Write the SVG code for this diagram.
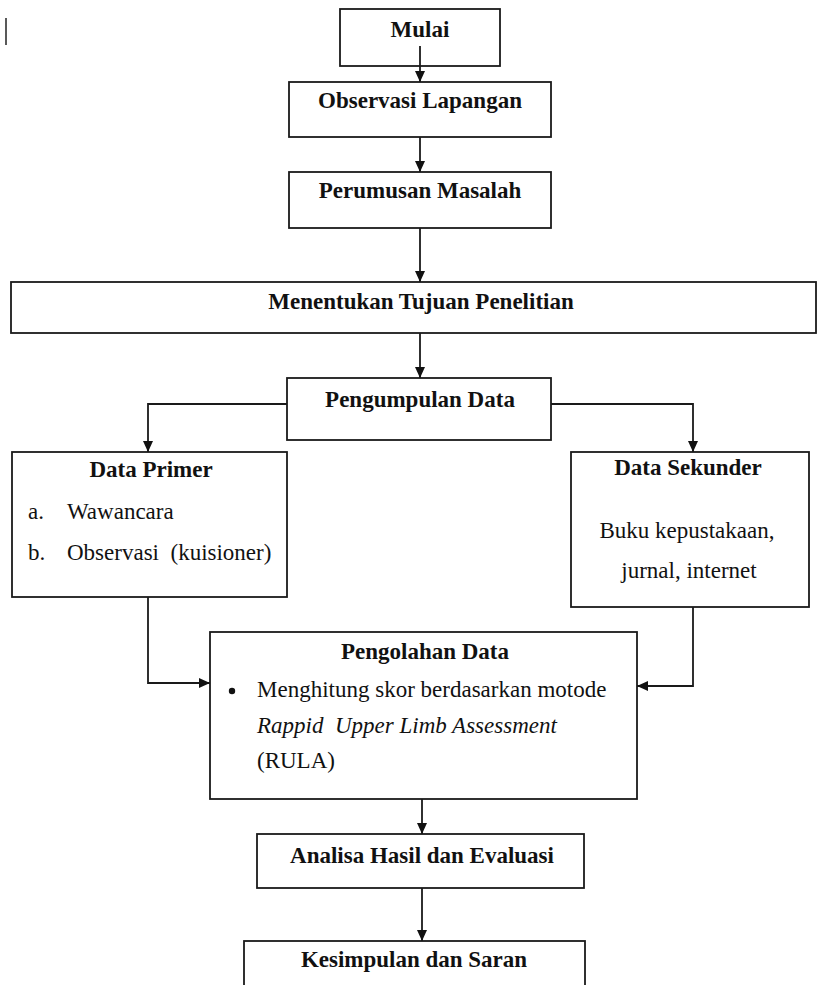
<svg xmlns="http://www.w3.org/2000/svg" width="818" height="985" viewBox="0 0 818 985">
<defs>
<style>
.box{fill:#fff;stroke:#1a1a1a;stroke-width:1.8}
.t{font-family:"Liberation Serif","Times New Roman",serif;font-size:23px;fill:#111}
.b{font-weight:bold}
.c{text-anchor:middle}
.i{font-style:italic}
.con{fill:none;stroke:#1a1a1a;stroke-width:1.8}
</style>
<marker id="ah" markerUnits="userSpaceOnUse" markerWidth="12" markerHeight="11" refX="11" refY="5" orient="auto">
<path d="M0,0 L11,5 L0,10 z" fill="#111"/>
</marker>
</defs>
<rect width="818" height="985" fill="#fff"/>
<line x1="6" y1="18" x2="6" y2="45" stroke="#222" stroke-width="1.5"/>
<g id="mulai"><rect class="box" x="340" y="9" width="160" height="57"/><text class="t b c" x="420" y="37">Mulai</text></g>
<g id="observasi"><rect class="box" x="289" y="82" width="262" height="55"/><text class="t b c" x="420" y="108">Observasi Lapangan</text></g>
<g id="perumusan"><rect class="box" x="289" y="172" width="262" height="56"/><text class="t b c" x="420" y="198">Perumusan Masalah</text></g>
<g id="tujuan"><rect class="box" x="11" y="282" width="805" height="51"/><text class="t b c" x="421" y="309">Menentukan Tujuan Penelitian</text></g>
<g id="pengumpulan"><rect class="box" x="287" y="378" width="264" height="62"/><text class="t b c" x="420" y="407">Pengumpulan Data</text></g>
<g id="primer"><rect class="box" x="12" y="452" width="275" height="145"/>
<text class="t b c" x="151" y="477">Data Primer</text>
<text class="t" x="28" y="519">a.</text><text class="t" x="67" y="519">Wawancara</text>
<text class="t" x="28" y="560">b.</text><text class="t" x="67" y="560" xml:space="preserve">Observasi  (kuisioner)</text></g>
<g id="sekunder"><rect class="box" x="571" y="452" width="238" height="155"/>
<text class="t b c" x="688" y="475">Data Sekunder</text>
<text class="t c" x="687" y="538">Buku kepustakaan,</text>
<text class="t c" x="689" y="578">jurnal, internet</text></g>
<g id="pengolahan"><rect class="box" x="210" y="632" width="427" height="167"/>
<text class="t b c" x="425" y="659">Pengolahan Data</text>
<circle cx="232" cy="691" r="3.2" fill="#111"/>
<text class="t" x="257" y="697">Menghitung skor berdasarkan motode</text>
<text class="t i" x="257" y="733" xml:space="preserve">Rappid  Upper Limb Assessment</text>
<text class="t" x="257" y="768">(RULA)</text></g>
<g id="analisa"><rect class="box" x="257" y="834" width="327" height="54"/><text class="t b c" x="422" y="863">Analisa Hasil dan Evaluasi</text></g>
<g id="kesimpulan"><rect class="box" x="244" y="941" width="341" height="60"/><text class="t b c" x="414" y="967">Kesimpulan dan Saran</text></g>
<g id="connectors">
<path class="con" d="M420,46 V82" marker-end="url(#ah)"/>
<path class="con" d="M420,137 V172" marker-end="url(#ah)"/>
<path class="con" d="M420,228 V282" marker-end="url(#ah)"/>
<path class="con" d="M420,333 V378" marker-end="url(#ah)"/>
<path class="con" d="M287,404 H148 V452" marker-end="url(#ah)"/>
<path class="con" d="M551,404 H693 V452" marker-end="url(#ah)"/>
<path class="con" d="M148,597 V683 H210" marker-end="url(#ah)"/>
<path class="con" d="M693,607 V686 H637" marker-end="url(#ah)"/>
<path class="con" d="M422,799 V834" marker-end="url(#ah)"/>
<path class="con" d="M422,888 V941" marker-end="url(#ah)"/>
</g>
</svg>
